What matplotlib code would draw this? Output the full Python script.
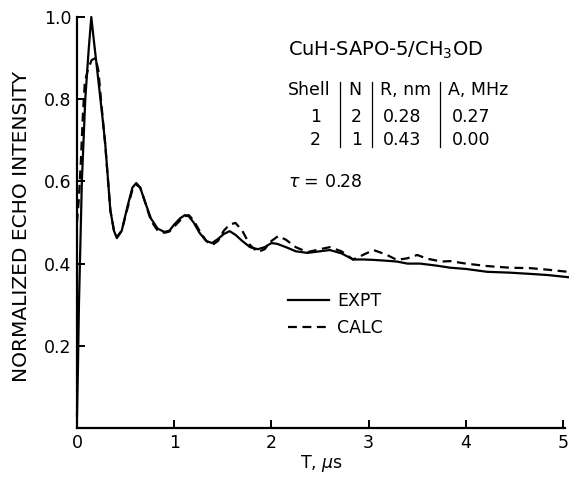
import matplotlib
matplotlib.use('Agg')
import matplotlib.pyplot as plt

# experimental echo decay (solid)
t_expt = [0.0, 0.01, 0.02, 0.035, 0.05, 0.085, 0.12, 0.147, 0.17, 0.22, 0.26, 0.29,
          0.343, 0.38, 0.41, 0.46, 0.52, 0.57, 0.61, 0.65, 0.70, 0.76, 0.83, 0.90,
          0.95, 1.00, 1.06, 1.11, 1.15, 1.20, 1.26, 1.33, 1.39, 1.45, 1.51, 1.57,
          1.63, 1.70, 1.78, 1.86, 1.93, 2.00, 2.06, 2.15, 2.25, 2.37, 2.50, 2.60,
          2.72, 2.84, 2.95, 3.05, 3.18, 3.29, 3.40, 3.53, 3.70, 3.84, 4.00, 4.22,
          4.45, 4.66, 4.85, 5.05]
i_expt = [0.03, 0.15, 0.30, 0.45, 0.60, 0.80, 0.92, 1.00, 0.95, 0.845, 0.76, 0.693,
          0.53, 0.48, 0.462, 0.48, 0.54, 0.585, 0.596, 0.585, 0.55, 0.51, 0.485, 0.477,
          0.48, 0.495, 0.51, 0.518, 0.515, 0.50, 0.475, 0.455, 0.45, 0.46, 0.472, 0.479,
          0.47, 0.455, 0.44, 0.435, 0.44, 0.45, 0.448, 0.44, 0.43, 0.426, 0.43, 0.433,
          0.425, 0.41, 0.41, 0.409, 0.407, 0.405, 0.40, 0.40, 0.395, 0.39, 0.387, 0.38,
          0.378, 0.375, 0.372, 0.367]

# calculated (dashed)
t_calc = [0.0, 0.02, 0.04, 0.06, 0.08, 0.11, 0.15, 0.19, 0.22, 0.25, 0.29, 0.343,
          0.38, 0.41, 0.46, 0.52, 0.57, 0.61, 0.65, 0.70, 0.76, 0.83, 0.90, 0.95,
          1.00, 1.06, 1.11, 1.15, 1.20, 1.26, 1.33, 1.39, 1.45, 1.51, 1.57, 1.63,
          1.70, 1.78, 1.86, 1.93, 2.00, 2.07, 2.15, 2.25, 2.37, 2.50, 2.60, 2.72,
          2.84, 2.95, 3.05, 3.18, 3.29, 3.40, 3.50, 3.60, 3.75, 3.84, 4.00, 4.22,
          4.45, 4.66, 4.85, 5.05]
i_calc = [0.50, 0.56, 0.65, 0.76, 0.84, 0.87, 0.895, 0.90, 0.87, 0.79, 0.69, 0.53,
          0.48, 0.465, 0.48, 0.535, 0.58, 0.592, 0.585, 0.55, 0.505, 0.48, 0.475, 0.478,
          0.49, 0.505, 0.515, 0.518, 0.505, 0.48, 0.455, 0.445, 0.455, 0.48, 0.495, 0.499,
          0.48, 0.445, 0.428, 0.435, 0.455, 0.467, 0.458, 0.44, 0.428, 0.435, 0.44, 0.43,
          0.41, 0.422, 0.433, 0.422, 0.409, 0.413, 0.421, 0.412, 0.405, 0.406, 0.40, 0.394,
          0.39, 0.389, 0.385, 0.38]

x_ticks = [0, 1, 2, 3, 4, 5]
y_ticks = [0.2, 0.4, 0.6, 0.8, 1.0]

shells = ['1', '2']
n_vals = ['2', '1']
r_vals = ['0.28', '0.43']
a_vals = ['0.27', '0.00']

fs = 12.5
fig = plt.figure(figsize=(5.69, 4.79), dpi=100)
ax = fig.add_axes([77/569, 51/479, 488/569, 411/479])

ax.plot(t_expt, i_expt, color='black', lw=1.6, label='EXPT', clip_on=False)
ax.plot(t_calc, i_calc, color='black', lw=1.6, ls=(0, (4, 2.5)), label='CALC', clip_on=False)

ax.set_xlim(0, 5.02)
ax.set_ylim(0, 1.0)
ax.set_xticks(x_ticks)
ax.set_xticklabels([str(v) for v in x_ticks])
ax.set_yticks(y_ticks)
ax.set_yticklabels([f'{v:.1f}' for v in y_ticks])
ax.spines['top'].set_visible(False)
ax.spines['right'].set_visible(False)
for s in ['left', 'bottom']:
    ax.spines[s].set_linewidth(1.6)
ax.tick_params(direction='in', length=6, width=1.4, labelsize=fs, pad=4)
ax.set_xlabel('T, $\\mu$s', fontsize=fs, labelpad=1)
ax.set_ylabel('NORMALIZED ECHO INTENSITY', fontsize=14.5)
ax.yaxis.set_label_coords(-0.094, 0.49)

# annotation block
ax.text(0.432, 0.92, 'CuH-SAPO-5/CH$_3$OD', transform=ax.transAxes, fontsize=14, va='center')
ax.text(0.432, 0.822, 'Shell', transform=ax.transAxes, fontsize=fs, va='center')
ax.text(0.570, 0.822, 'N', transform=ax.transAxes, fontsize=fs, va='center', ha='center')
ax.text(0.621, 0.822, 'R, nm', transform=ax.transAxes, fontsize=fs, va='center')
ax.text(0.760, 0.822, 'A, MHz', transform=ax.transAxes, fontsize=fs, va='center')
for k, yy in enumerate([0.757, 0.701]):
    ax.text(0.488, yy, shells[k], transform=ax.transAxes, fontsize=fs, va='center', ha='center')
    ax.text(0.572, yy, n_vals[k], transform=ax.transAxes, fontsize=fs, va='center', ha='center')
    ax.text(0.627, yy, r_vals[k], transform=ax.transAxes, fontsize=fs, va='center')
    ax.text(0.768, yy, a_vals[k], transform=ax.transAxes, fontsize=fs, va='center')
for xs in [0.539, 0.605, 0.744]:
    ax.plot([xs, xs], [0.684, 0.842], transform=ax.transAxes, color='black', lw=0.9)
ax.text(0.432, 0.599, '$\\tau$ = 0.28', transform=ax.transAxes, fontsize=fs, va='center')

ax.legend(loc='upper left', bbox_to_anchor=(0.432, 0.33), frameon=False, fontsize=fs,
          handlelength=2.4, handletextpad=0.45, labelspacing=0.5, borderpad=0, borderaxespad=0)

fig.savefig('out.png', dpi=100)
